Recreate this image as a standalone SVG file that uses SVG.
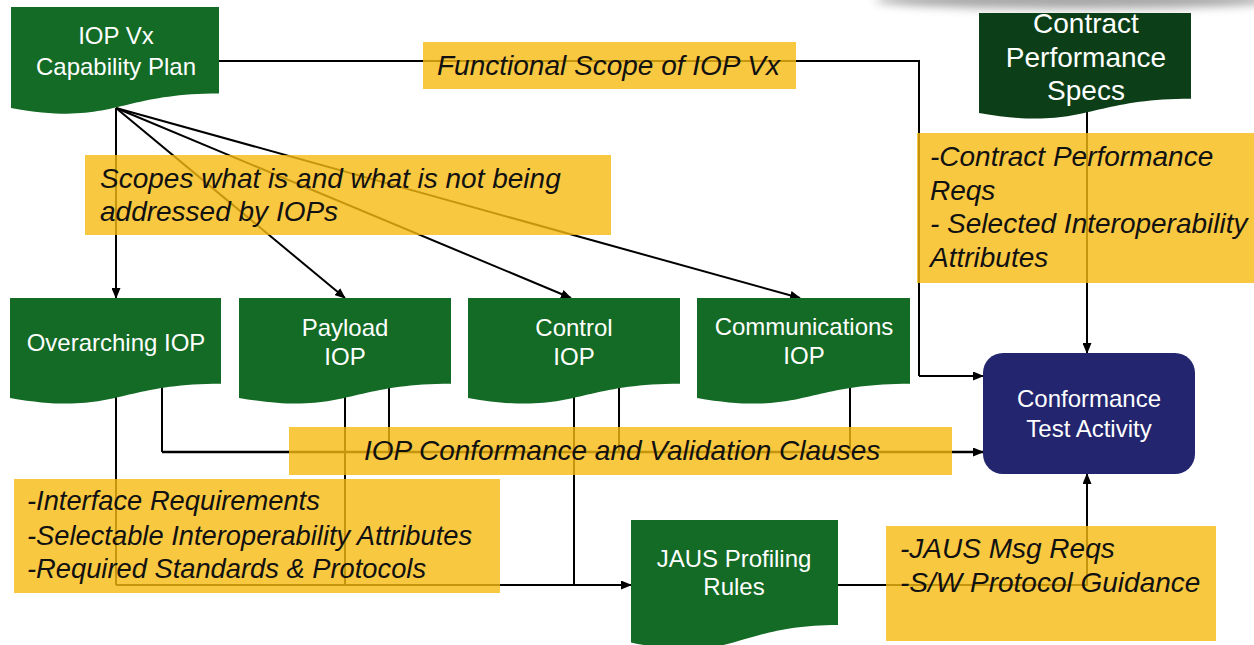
<svg xmlns="http://www.w3.org/2000/svg" width="1254" height="645" viewBox="0 0 1254 645">
  <style>
    .doc { fill: #136B25; }
    .doc-dark { fill: #0C3F18; }
    .ntext { font-family: "Liberation Sans", Arial, sans-serif; font-size: 24px; fill: #ffffff; text-anchor: middle; }
    .ntext-lg { font-family: "Liberation Sans", Arial, sans-serif; font-size: 28px; fill: #ffffff; text-anchor: middle; }
    .note { fill: #F7BA12; fill-opacity: 0.8; }
    .ntxt { font-family: "Liberation Sans", Arial, sans-serif; font-size: 28px; font-style: italic; fill: #111111; }
    .wire { fill: none; stroke: #000000; stroke-width: 2; }
    .wire-arrow { fill: none; stroke: #000000; stroke-width: 2; marker-end: url(#arrow); }
  </style>
  <defs>
    <marker id="arrow" markerWidth="11" markerHeight="9" refX="10" refY="4.5" orient="auto" markerUnits="userSpaceOnUse">
      <path d="M0,0 L11,4.5 L0,9 Z" fill="#000000"/>
    </marker>
    <filter id="soft" x="-20%" y="-200%" width="140%" height="500%">
      <feGaussianBlur stdDeviation="5"/>
    </filter>
  </defs>

  <rect width="1254" height="645" fill="#ffffff"/>

  <!-- soft grey band along the top right edge -->
  <ellipse cx="1075" cy="0" rx="200" ry="9" fill="#8a8a8a" opacity="0.75" filter="url(#soft)"/>

  <!-- connectors -->
  <g id="connectors">
    <path class="wire" d="M219,61 H919 V376"/>
    <path class="wire-arrow" d="M919,376 H983"/>
    <path class="wire-arrow" d="M116,108 V298"/>
    <path class="wire-arrow" d="M116,108 L345,298"/>
    <path class="wire-arrow" d="M116,108 L571,298"/>
    <path class="wire-arrow" d="M116,108 L800,298"/>
    <path class="wire-arrow" d="M1087,110 V353"/>
    <path class="wire" d="M162,385 V452"/>
    <path class="wire" d="M389,380 V452"/>
    <path class="wire" d="M619,380 V452"/>
    <path class="wire" d="M850,380 V452"/>
    <path class="wire-arrow" style="stroke-width:2.5" d="M162,452 H983"/>
    <path class="wire" d="M116,390 V585"/>
    <path class="wire" d="M345,390 V585"/>
    <path class="wire" d="M574,390 V585"/>
    <path class="wire-arrow" d="M116,585 H631"/>
    <path class="wire" d="M830,585 H1087 V480"/>
    <path class="wire-arrow" d="M1087,490 V474"/>
  </g>

  <!-- document nodes -->
  <g id="capability-plan">
    <path class="doc" d="M11,7 H219 V93.6 C115,93.6 115,126.6 11,107.9 Z"/>
    <text class="ntext" x="116" y="44">IOP Vx</text>
    <text class="ntext" x="116" y="75">Capability Plan</text>
  </g>
  <g id="contract-specs">
    <path class="doc-dark" d="M979,13 H1191 V98.8 C1085,98.8 1085,131.5 979,112.9 Z"/>
    <text class="ntext-lg" x="1086" y="33">Contract</text>
    <text class="ntext-lg" x="1086" y="67">Performance</text>
    <text class="ntext-lg" x="1086" y="100">Specs</text>
  </g>
  <g id="overarching-iop">
    <path class="doc" d="M10,298 H221 V383.8 C115.5,383.8 115.5,416.5 10,397.9 Z"/>
    <text class="ntext" x="116" y="351">Overarching IOP</text>
  </g>
  <g id="payload-iop">
    <path class="doc" d="M239,298 H451 V383.8 C345,383.8 345,416.5 239,397.9 Z"/>
    <text class="ntext" x="345" y="336">Payload</text>
    <text class="ntext" x="345" y="365">IOP</text>
  </g>
  <g id="control-iop">
    <path class="doc" d="M468,298 H680 V383.8 C574,383.8 574,416.5 468,397.9 Z"/>
    <text class="ntext" x="574" y="336">Control</text>
    <text class="ntext" x="574" y="365">IOP</text>
  </g>
  <g id="communications-iop">
    <path class="doc" d="M697,298 H910 V383.8 C803.5,383.8 803.5,416.5 697,397.9 Z"/>
    <text class="ntext" x="804" y="335">Communications</text>
    <text class="ntext" x="804" y="364">IOP</text>
  </g>
  <g id="jaus-profiling">
    <path class="doc" d="M631,520 H838 V625 C734.5,625 734.5,665 631,642.4 Z"/>
    <text class="ntext" x="734" y="567">JAUS Profiling</text>
    <text class="ntext" x="734" y="595">Rules</text>
  </g>
  <g id="conformance-test">
    <rect x="983" y="353" width="212" height="121" rx="20" ry="20" fill="#23256E"/>
    <text class="ntext" x="1089" y="407">Conformance</text>
    <text class="ntext" x="1089" y="437">Test Activity</text>
  </g>

  <!-- annotation notes -->
  <g id="note-functional-scope">
    <rect class="note" x="423" y="42" width="373" height="47"/>
    <text class="ntxt" x="437" y="75">Functional Scope of IOP Vx</text>
  </g>
  <g id="note-scopes">
    <rect class="note" x="85" y="155" width="526" height="80"/>
    <text class="ntxt" x="100" y="188">Scopes what is and what is not being</text>
    <text class="ntxt" x="100" y="221">addressed by IOPs</text>
  </g>
  <g id="note-contract-reqs">
    <rect class="note" x="917" y="133" width="337" height="150"/>
    <text class="ntxt" x="930" y="166">-Contract Performance</text>
    <text class="ntxt" x="930" y="200">Reqs</text>
    <text class="ntxt" x="930" y="233">- Selected Interoperability</text>
    <text class="ntxt" x="930" y="267">Attributes</text>
  </g>
  <g id="note-conformance-clauses">
    <rect class="note" x="289" y="427" width="663" height="48"/>
    <text class="ntxt" x="364" y="460">IOP Conformance and Validation Clauses</text>
  </g>
  <g id="note-interface">
    <rect class="note" x="14" y="479" width="486" height="114"/>
    <text class="ntxt" x="27" y="510" style="font-size:27.3px">-Interface Requirements</text>
    <text class="ntxt" x="27" y="545" style="font-size:27.3px">-Selectable Interoperability Attributes</text>
    <text class="ntxt" x="27" y="578" style="font-size:27.3px">-Required Standards &amp; Protocols</text>
  </g>
  <g id="note-jaus">
    <rect class="note" x="886" y="526" width="330" height="115"/>
    <text class="ntxt" x="900" y="558">-JAUS Msg Reqs</text>
    <text class="ntxt" x="900" y="592">-S/W Protocol Guidance</text>
  </g>
</svg>
